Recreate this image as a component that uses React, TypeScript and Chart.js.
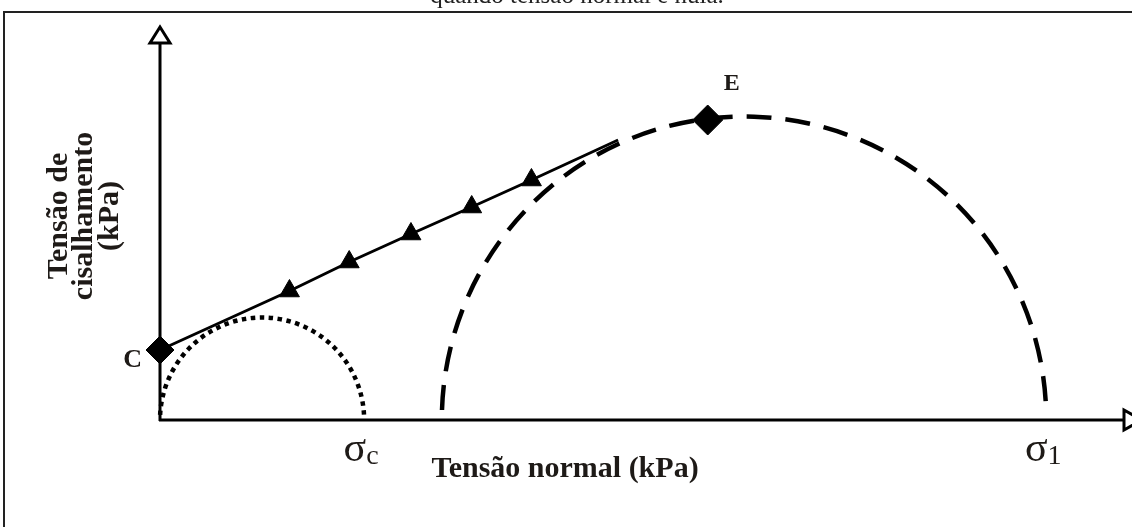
import React, { useEffect, useRef } from 'react';
import { Chart, registerables } from 'chart.js';

Chart.register(...registerables);

// ---- data (arbitrary stress units) ----
const caption = 'quando tensão normal é nula.';
const xTitle = 'Tensão normal (kPa)';
const yTitleLines = ['Tensão de', 'cisalhamento', '(kPa)'];

// failure envelope (normal stress, shear stress)
const envelopeSigma = [0, 130, 190, 252, 313, 373, 460];
const envelopeTau = [70, 129, 158, 186, 213, 240, 280];

// marked points
const pointLabels = ['C', 'E'];
const pointSigma = [0, 550];
const pointTau = [70, 300];

// Mohr circles
const circleSymbol = ['σ', 'σ'];
const circleSub = ['c', '1'];
const circleSigma3 = [0, 283];
const circleSigma1 = [205, 890];

const X_MIN = 0;
const X_MAX = 960;
const Y_MIN = 0;
const Y_MAX = 400;

const TEXT = '#1e1a17';
const SERIF = '"Liberation Serif", "Times New Roman", serif';

const diagramPlugin = {
  id: 'diagram',
  beforeDatasetsDraw(chart: any) {
    const ctx = chart.ctx as CanvasRenderingContext2D;
    const xs = chart.scales.x;
    const ys = chart.scales.y;
    const ox = xs.getPixelForValue(0);
    const oy = ys.getPixelForValue(0);
    ctx.save();
    // frame
    ctx.strokeStyle = '#222';
    ctx.lineWidth = 2;
    ctx.beginPath();
    ctx.moveTo(4, 527);
    ctx.lineTo(4, 12);
    ctx.lineTo(1132, 12);
    ctx.stroke();
    // caption (clipped at top)
    ctx.fillStyle = '#222';
    ctx.font = `25px ${SERIF}`;
    ctx.textAlign = 'center';
    ctx.textBaseline = 'alphabetic';
    ctx.fillText(caption, 577, 3);

    // Mohr circles
    circleSigma3.forEach((s3, i) => {
      const s1 = circleSigma1[i];
      const p3 = xs.getPixelForValue(s3);
      const p1 = xs.getPixelForValue(s1);
      const cx = (p3 + p1) / 2;
      const rx = (p1 - p3) / 2;
      const ry = oy - ys.getPixelForValue((s1 - s3) / 2);
      ctx.strokeStyle = '#000';
      ctx.lineCap = 'butt';
      let g;
      if (i === 0) {
        ctx.lineWidth = 4.5;
        ctx.setLineDash([4.5, 4.5]);
        g = Math.asin(5 / rx);
      } else {
        ctx.lineWidth = 4.5;
        ctx.setLineDash([25, 14]);
        g = Math.asin(10 / rx);
      }
      ctx.beginPath();
      ctx.ellipse(cx, oy, rx, ry, 0, Math.PI + g, 2 * Math.PI - g);
      ctx.stroke();
    });
    ctx.setLineDash([]);

    // axes
    ctx.strokeStyle = '#000';
    ctx.lineWidth = 3;
    ctx.beginPath();
    ctx.moveTo(ox, oy + 1);
    ctx.lineTo(ox, 43);
    ctx.moveTo(ox - 1, oy);
    ctx.lineTo(1124, oy);
    ctx.stroke();
    ctx.fillStyle = '#fff';
    ctx.lineJoin = 'miter';
    ctx.beginPath();
    ctx.moveTo(ox, 27);
    ctx.lineTo(ox - 10, 43);
    ctx.lineTo(ox + 10, 43);
    ctx.closePath();
    ctx.fill();
    ctx.stroke();
    ctx.beginPath();
    ctx.moveTo(1142, oy);
    ctx.lineTo(1124, oy - 10);
    ctx.lineTo(1124, oy + 10);
    ctx.closePath();
    ctx.fill();
    ctx.stroke();
    ctx.restore();
  },
  afterDatasetsDraw(chart: any) {
    const ctx = chart.ctx as CanvasRenderingContext2D;
    const xs = chart.scales.x;
    const ys = chart.scales.y;
    const oy = ys.getPixelForValue(0);
    ctx.save();
    ctx.fillStyle = TEXT;
    ctx.textBaseline = 'alphabetic';

    // point labels
    ctx.font = `bold 26px ${SERIF}`;
    ctx.textAlign = 'right';
    const cx = xs.getPixelForValue(pointSigma[0]);
    const cy = ys.getPixelForValue(pointTau[0]);
    ctx.fillText(pointLabels[0], cx - 18, cy + 17);
    ctx.font = `bold 24px ${SERIF}`;
    ctx.textAlign = 'center';
    const ex = xs.getPixelForValue(pointSigma[1]);
    const ey = ys.getPixelForValue(pointTau[1]);
    ctx.fillText(pointLabels[1], ex + 24, ey - 30);

    // circle labels
    circleSigma1.forEach((s1, i) => {
      const px = xs.getPixelForValue(s1);
      ctx.font = `42px ${SERIF}`;
      ctx.textAlign = 'left';
      const w1 = ctx.measureText(circleSymbol[i]).width;
      ctx.font = `28px ${SERIF}`;
      const w2 = ctx.measureText(circleSub[i]).width;
      const left = px - (w1 + w2) / 2 - 3;
      ctx.font = `42px ${SERIF}`;
      ctx.fillText(circleSymbol[i], left, oy + 41);
      ctx.font = `28px ${SERIF}`;
      ctx.fillText(circleSub[i], left + w1, oy + 44);
    });

    // axis titles
    ctx.font = `bold 30px ${SERIF}`;
    ctx.textAlign = 'center';
    ctx.fillText(xTitle, 565, oy + 57);
    const baseX = [67, 92, 118];
    yTitleLines.forEach((line, i) => {
      ctx.save();
      ctx.translate(baseX[i], 216);
      ctx.rotate(-Math.PI / 2);
      ctx.fillText(line, 0, 0);
      ctx.restore();
    });
    ctx.restore();
  },
};

export default function App() {
  const ref = useRef<HTMLCanvasElement>(null);
  useEffect(() => {
    const canvas = ref.current;
    if (!canvas) return;
    const chart = new Chart(canvas, {
      type: 'line',
      data: {
        datasets: [
          {
            type: 'scatter',
            data: pointSigma.map((x, i) => ({ x, y: pointTau[i] })),
            pointStyle: 'rectRot',
            pointRadius: [14, 15],
            pointBackgroundColor: '#000',
            pointBorderColor: '#000',
            pointBorderWidth: 1,
            showLine: false,
            clip: false,
            order: 1,
          } as any,
          {
            type: 'line',
            data: envelopeSigma.map((x, i) => ({ x, y: envelopeTau[i] })),
            borderColor: '#000',
            borderWidth: 3,
            tension: 0,
            pointStyle: 'triangle',
            pointRadius: envelopeSigma.map((_, i) => (i === 0 || i === envelopeSigma.length - 1 ? 0 : 11.5)),
            pointBackgroundColor: '#000',
            pointBorderColor: '#000',
            pointBorderWidth: 1,
            clip: false,
            order: 2,
          } as any,
        ],
      },
      options: {
        responsive: false,
        animation: false,
        devicePixelRatio: 1,
        events: [],
        layout: { padding: { left: 160, right: 12, top: 20, bottom: 107 } },
        scales: {
          x: { type: 'linear', display: false, min: X_MIN, max: X_MAX },
          y: { type: 'linear', display: false, min: Y_MIN, max: Y_MAX },
        },
        plugins: { legend: { display: false }, tooltip: { enabled: false } },
      },
      plugins: [diagramPlugin],
    });
    return () => chart.destroy();
  }, []);
  return (
    <div style={{ position: 'absolute', left: 0, top: 0, width: 1132, height: 527, background: '#fff' }}>
      <canvas ref={ref} width={1132} height={527} style={{ display: 'block' }} />
    </div>
  );
}
